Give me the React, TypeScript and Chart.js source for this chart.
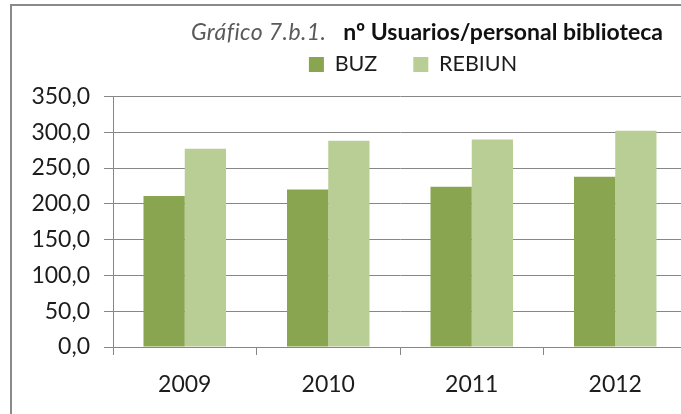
import { useEffect, useRef } from 'react';
import { Chart, registerables } from 'chart.js';

Chart.register(...registerables);

const years = ['2009', '2010', '2011', '2012'];
const buzValues = [211, 220, 224, 238];
const rebiunValues = [277, 288, 290, 302];
const seriesNames = ['BUZ', 'REBIUN'];
const titlePrefix = 'Gráfico 7.b.1.';
const titleMain = 'nº Usuarios/personal biblioteca';
const yMin = 0;
const yMax = 350;
const yStep = 50;

const FONT = 'Lato, "Open Sans", sans-serif';
const GRID = '#878787';
const TEXT = '#1c1c1c';

const titlePlugin = {
  id: 'mixedTitle',
  afterDraw(chart: any) {
    const ctx = chart.ctx as any;
    ctx.save();
    ctx.textBaseline = 'alphabetic';
    ctx.font = `italic 23px ${FONT}`;
    ctx.letterSpacing = '0.4px';
    ctx.fillStyle = '#5a5a5a';
    ctx.textAlign = 'left';
    ctx.fillText(titlePrefix, 191, 40);
    ctx.font = `bold 23px ${FONT}`;
    ctx.letterSpacing = '0px';
    ctx.fillStyle = '#111111';
    ctx.textAlign = 'right';
    ctx.fillText(titleMain, 663, 40);
    ctx.restore();
  },
};

export default function App() {
  const ref = useRef<HTMLCanvasElement | null>(null);

  useEffect(() => {
    if (!ref.current) return;
    const chart = new Chart(ref.current, {
      type: 'bar',
      data: {
        labels: years,
        datasets: [
          {
            label: seriesNames[0],
            data: buzValues,
            backgroundColor: '#8AA54F',
            borderWidth: 0,
            categoryPercentage: 0.575,
            barPercentage: 1,
          },
          {
            label: seriesNames[1],
            data: rebiunValues,
            backgroundColor: '#B9CE95',
            borderWidth: 0,
            categoryPercentage: 0.575,
            barPercentage: 1,
          },
        ],
      },
      options: {
        responsive: false,
        animation: false,
        devicePixelRatio: 1,
        layout: { padding: { top: 17.75, left: 0, right: 0, bottom: 0 } },
        plugins: {
          title: {
            display: true,
            text: '',
            weight: 500,
            padding: 0,
            font: { size: 11.25, lineHeight: 1 },
          },
          tooltip: { enabled: false },
          legend: {
            display: true,
            position: 'top',
            labels: {
              boxWidth: 15,
              boxHeight: 15,
              padding: 36,
              color: TEXT,
              font: { family: FONT, size: 21.5 },
            },
          },
        },
        scales: {
          x: {
            grid: {
              display: true,
              drawOnChartArea: false,
              drawTicks: true,
              tickLength: 8,
              color: GRID,
              offset: true,
            },
            border: { display: true, color: GRID, width: 1 },
            ticks: {
              color: TEXT,
              padding: 16,
              font: { family: FONT, size: 23 },
            },
            afterFit: (s: any) => {
              s.height = 67;
            },
          },
          y: {
            min: yMin,
            max: yMax,
            grid: {
              display: true,
              drawOnChartArea: true,
              drawTicks: true,
              tickLength: 9,
              color: GRID,
            },
            border: { display: true, color: GRID, width: 1 },
            ticks: {
              stepSize: yStep,
              color: TEXT,
              padding: 14,
              font: { family: FONT, size: 23 },
              callback: (v: any) => Number(v).toFixed(1).replace('.', ','),
            },
            afterFit: (s: any) => {
              s.width = 113;
            },
          },
          yRight: {
            position: 'right',
            display: true,
            grid: { display: false },
            border: { display: false },
            ticks: { display: false },
            afterFit: (s: any) => {
              s.width = 139;
            },
          },
        },
      },
      plugins: [titlePlugin],
    } as any);
    return () => chart.destroy();
  }, []);

  return (
    <div
      style={{
        position: 'fixed',
        left: 0,
        top: 0,
        width: 681,
        height: 414,
        overflow: 'hidden',
        background: '#ffffff',
      }}
    >
      <div
        style={{
          position: 'absolute',
          left: 10,
          top: 4,
          width: 760,
          height: 500,
          border: '2px solid #8a8a8a',
          boxSizing: 'border-box',
        }}
      />
      <canvas
        ref={ref}
        width={826}
        height={414}
        style={{ position: 'absolute', left: 0, top: 0, width: 826, height: 414 }}
      />
    </div>
  );
}
